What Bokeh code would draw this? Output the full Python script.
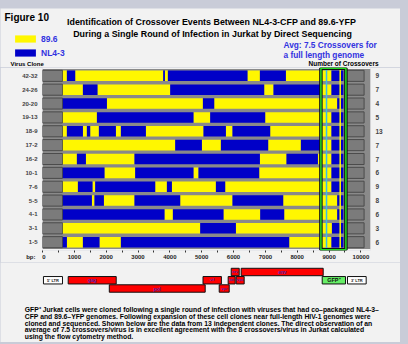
from bokeh.plotting import figure
from bokeh.models import (Range1d, LinearAxis, FixedTicker, Label, Legend,
                          LegendItem, ColumnDataSource)
from bokeh.layouts import column
from bokeh.core.properties import value
from bokeh.embed import file_html
from bokeh.resources import INLINE

# ---------------- data ----------------
clones = ["42-32", "24-26", "20-20", "19-13", "18-9", "17-2", "16-2",
          "10-1", "7-6", "5-5", "4-1", "3-1", "1-5"]
crossovers = [9, 7, 4, 5, 13, 7, 7, 6, 9, 8, 6, 3, 6]
first_strain = ["89.6", "89.6", "NL4-3", "89.6", "89.6", "89.6", "89.6",
                "NL4-3", "89.6", "NL4-3", "NL4-3", "89.6", "NL4-3"]
breakpoints = [
    [766, 1027, 3791, 3844, 3938, 6438, 6828, 7644, 9075],
    [1269, 1727, 4011, 6963, 7255, 8750, 9075],
    [2023, 5038, 5393, 9256],
    [1709, 4742, 5267, 6994, 9075],
    [766, 1269, 1394, 1498, 1771, 2305, 2462, 3247, 5057, 5760, 5967, 7151, 9075],
    [4168, 5006, 5603, 7088, 8115, 8750, 9075],
    [1080, 1363, 2889, 6828, 7663, 8650, 9075],
    [1947, 2911, 4742, 4899, 6806, 9075],
    [1112, 1570, 1655, 3540, 3907, 4064, 5446, 5738, 9075],
    [1551, 1633, 1928, 2889, 4325, 5967, 7560, 9256],
    [3832, 4095, 5685, 6838, 7591, 9256],
    [4953, 6074, 9090],
    [766, 1269, 1790, 2462, 7748, 9075],
]
seq_start_bp = 640
seq_end_bp = 9450
ltr_start = [0, 9530]
ltr_end = [628, 10100]
gfp_region = [8744, 9529]
marker_cyan_bp = 8920
marker_yellow_bp = 9350
x_ticks = list(range(0, 10001, 500))

gene_names = ["5' LTR", "gag", "pol", "vif", "vpr", "tat", "rev", "vpu", "env", "GFP\u207a", "3' LTR"]
gene_start = [30, 807, 2098, 5041, 5550, 5831, 5927, 6083, 6240, 8785, 9579]
gene_end = [628, 2315, 5110, 5619, 5864, 6051, 6178, 6334, 8816, 9516, 10166]
gene_level = [2, 2, 3, 2, 3, 2, 1, 2, 1, 2, 2]
gene_kind = ["ltr", "gene", "gene", "gene", "gene", "gene", "gene", "gene", "gene", "gfp", "ltr"]

paragraph = [
    "GFP\u207a Jurkat cells were cloned following a single round of infection with viruses that had co\u2013packaged NL4-3\u2013",
    "CFP and 89.6\u2013YFP genomes. Following expansion of these cell clones near full-length HIV-1 genomes were",
    "cloned and sequenced.  Shown below are the data from 13 independent clones. The direct observation of an",
    "average of 7.5 crossovers/virus is in excellent agreement with the 8 crossovers/virus in Jurkat calculated",
    "using the flow cytometry method.",
]

# ---------------- styling / layout ----------------
FONT = "Liberation Sans"
BG = "#f2f2f2"
LAV = "#c9ccd8"
YEL = "#fff700"
BLU = "#0000c8"
TXT_BLUE = "#3333e0"
n = len(clones)
W = 400
H_TOP, H_HEAD, H_MAP, H_GENE = 8, 59, 195, 80
LEFT, RIGHT = 42, 30
frame_w = W - LEFT - RIGHT
px_per_bp = 0.03184
x_end = frame_w / px_per_bp
NAN = float("nan")


def lab(p, x, y, text, size, color="black", align="left", style="bold"):
    p.add_layout(Label(x=x, y=y, x_units="screen", y_units="screen", text=text,
                       text_font=FONT, text_font_size=size, text_font_style=style,
                       text_color=color, text_align=align, text_baseline="middle"))


def blank(height, x_range, y_range, fill=BG):
    f = figure(width=W, height=height, x_range=x_range, y_range=y_range,
               x_axis_type=None, y_axis_type=None, toolbar_location=None,
               output_backend="svg", min_border_left=0, min_border_right=0,
               min_border_top=0, min_border_bottom=0, frame_align=False)
    f.background_fill_color = fill
    f.border_fill_color = fill
    f.outline_line_color = None
    return f


top_band = blank(H_TOP, Range1d(0, 1), Range1d(0, 1), fill=LAV)

# ---------------- header ----------------
head = blank(H_HEAD, Range1d(0, 1), Range1d(0, 1))
hy = head.quad(left=[NAN], right=[NAN], top=[NAN], bottom=[NAN], fill_color=YEL, line_color=None)
hb = head.quad(left=[NAN], right=[NAN], top=[NAN], bottom=[NAN], fill_color=BLU, line_color=None)
legend = Legend(items=[LegendItem(label="89.6", renderers=[hy]),
                       LegendItem(label="NL4-3", renderers=[hb])],
                location=(12, 9.5), glyph_width=26, glyph_height=9,
                label_height=9, label_standoff=3, spacing=4, padding=0, margin=0,
                background_fill_alpha=0, border_line_color=None,
                label_text_font=FONT, label_text_font_size="8.5px",
                label_text_font_style="bold", label_text_color=TXT_BLUE)
head.add_layout(legend)
lab(head, 4, 49.7, "Figure 10", "10px")
lab(head, 211, 46, "Identification of Crossover Events Between NL4-3-CFP and 89.6-YFP", "8.9px", align="center")
lab(head, 212, 34, "During a Single Round of Infection in Jurkat by Direct Sequencing", "8.9px", align="center")
lab(head, 283, 22.7, "Avg: 7.5 Crossovers for", "8.3px", color=TXT_BLUE)
lab(head, 283, 12.7, "a full length genome", "8.3px", color=TXT_BLUE)
lab(head, 10, 3.5, "Virus Clone", "6px")
lab(head, 308, 4, "Number of Crossovers", "6.5px")

# ---------------- crossover map ----------------
p1 = figure(width=W, height=H_MAP, x_range=Range1d(0, x_end),
            y_range=Range1d(n - 1 + 0.6, -0.6),
            toolbar_location=None, output_backend="svg",
            min_border_left=LEFT, min_border_right=RIGHT,
            min_border_top=0, min_border_bottom=H_MAP - 184, frame_align=False)
p1.background_fill_color = BG
p1.border_fill_color = BG
p1.outline_line_color = None
p1.grid.visible = False

p1.quad(left=[0], right=[x_end], top=[-0.5], bottom=[n - 0.5],
        fill_color="#8a8a8a", line_color=None)

rows = list(range(n))
lx0, lx1, ly = [], [], []
for i in rows:
    for a, b in zip(ltr_start, ltr_end):
        lx0.append(a); lx1.append(b); ly.append(i)
p1.quad(left=lx0, right=lx1, top=[y - 0.4 for y in ly], bottom=[y + 0.4 for y in ly],
        fill_color="#7b7b7b", line_color="#4a4a4a", line_width=1)

segs = {"89.6": dict(l=[], r=[], t=[], b=[]), "NL4-3": dict(l=[], r=[], t=[], b=[])}
for i, (s, bps) in enumerate(zip(first_strain, breakpoints)):
    edges = [seq_start_bp] + bps + [seq_end_bp]
    strain = s
    for a, b in zip(edges[:-1], edges[1:]):
        d = segs[strain]
        d["l"].append(a); d["r"].append(b)
        d["t"].append(i - 0.38); d["b"].append(i + 0.38)
        strain = "NL4-3" if strain == "89.6" else "89.6"

p1.quad(left="l", right="r", top="t", bottom="b", source=ColumnDataSource(segs["89.6"]),
        fill_color=YEL, line_color=None)
p1.quad(left="l", right="r", top="t", bottom="b", source=ColumnDataSource(segs["NL4-3"]),
        fill_color=BLU, line_color=None)

p1.segment(x0=[marker_cyan_bp], x1=[marker_cyan_bp], y0=[-0.55], y1=[n - 0.45],
           line_color="#33bbee", line_width=1.5)
p1.segment(x0=[marker_yellow_bp], x1=[marker_yellow_bp], y0=[-0.55], y1=[n - 0.45],
           line_color=YEL, line_width=1.5)
p1.quad(left=[gfp_region[0]], right=[gfp_region[1]], top=[-0.55], bottom=[n - 0.45],
        fill_alpha=0, line_color="#111111", line_width=3.5)
p1.quad(left=[gfp_region[0]], right=[gfp_region[1]], top=[-0.55], bottom=[n - 0.45],
        fill_alpha=0, line_color="#22dd22", line_width=1.5)

xa = p1.xaxis[0]
xa.ticker = FixedTicker(ticks=x_ticks)
fsp = "\u2007"
xa.major_label_overrides = {t: ("bp:" + fsp * 2 + "0" + fsp * 4 if t == 0 else
                                str(t) if t % 1000 == 0 else "") for t in x_ticks}
xa.axis_line_color = None
xa.major_tick_line_color = "#333333"
xa.major_tick_out = 2
xa.major_tick_in = 0
xa.minor_tick_line_color = None
xa.major_label_standoff = 1
xa.major_label_text_font = FONT
xa.major_label_text_font_size = "6px"
xa.major_label_text_font_style = "bold"
xa.major_label_text_color = "#222222"

ya = p1.yaxis[0]
ya.ticker = FixedTicker(ticks=rows)
ya.major_label_overrides = {i: c for i, c in enumerate(clones)}
ya.axis_line_color = None
ya.major_tick_line_color = None
ya.minor_tick_line_color = None
ya.major_tick_out = 0
ya.major_label_standoff = 5
ya.major_label_text_font = FONT
ya.major_label_text_font_size = "6px"
ya.major_label_text_font_style = "bold"

ra = LinearAxis(ticker=FixedTicker(ticks=rows),
                major_label_overrides={i: str(c) for i, c in enumerate(crossovers)})
ra.axis_line_color = None
ra.major_tick_line_color = None
ra.minor_tick_line_color = None
ra.major_tick_out = 0
ra.major_label_standoff = 5
ra.major_label_text_font = FONT
ra.major_label_text_font_size = "6.5px"
ra.major_label_text_font_style = "bold"
p1.add_layout(ra, "right")

# ---------------- genome map + caption ----------------
level_px = 8.25
first_level_y = 9.5
y0 = 1 - first_level_y / level_px
gene_fig = blank(H_GENE,
                 Range1d(-LEFT / px_per_bp, (W - LEFT) / px_per_bp),
                 Range1d(y0 + H_GENE / level_px, y0))

fills = {"ltr": "#ffffff", "gene": "#ff0000", "gfp": "#66ee66"}
tcols = {"ltr": "#222222", "gene": "#5522aa", "gfp": "#111111"}
gsrc = ColumnDataSource(dict(
    l=gene_start, r=gene_end,
    t=[g - 0.45 for g in gene_level], b=[g + 0.45 for g in gene_level],
    mid=[(a + b) / 2 for a, b in zip(gene_start, gene_end)], y=gene_level,
    name=gene_names,
    fc=[fills[k] for k in gene_kind], tc=[tcols[k] for k in gene_kind],
    fs=[("5.5px" if k == "gfp" else "4px" if k == "ltr" else "5px" if (b - a) > 1000 else "3.8px")
        for k, a, b in zip(gene_kind, gene_start, gene_end)],
))
gene_fig.quad(left="l", right="r", top="t", bottom="b", source=gsrc,
              fill_color="fc", line_color="#111111", line_width=1)
gene_fig.text(x="mid", y="y", text="name", source=gsrc, text_align="center",
              text_baseline="middle", text_font=value(FONT), text_font_style="bold",
              text_font_size="fs", text_color="tc")

para_top = H_TOP + H_HEAD + H_MAP + H_GENE
for k, line in enumerate(paragraph):
    lab(gene_fig, 24.3, para_top - (309.3 + 6.6 * k), line, "6.8px")

layout = column(top_band, head, p1, gene_fig, spacing=0, width=408, height=344,
                styles={"background-color": LAV})
open("out.html", "w").write(file_html(layout, INLINE))
